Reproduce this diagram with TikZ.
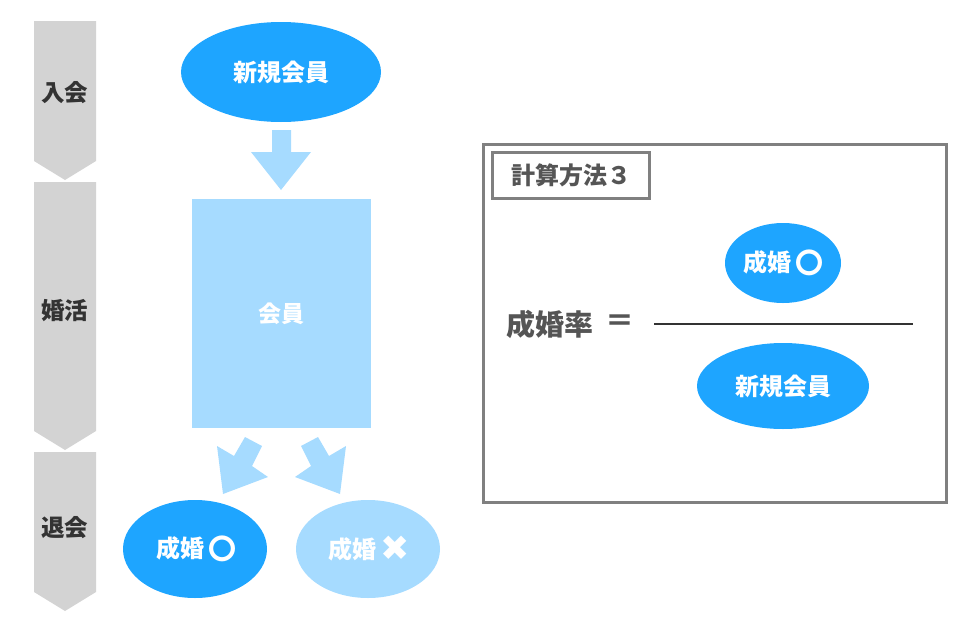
\documentclass[tikz,border=0pt]{standalone}
\usepackage{fontspec}
\setmainfont{Noto Sans CJK JP}
\newfontfamily\symfont{DejaVu Sans}
\usetikzlibrary{shapes.geometric}
\definecolor{barg}{HTML}{D3D3D3}
\definecolor{dblue}{HTML}{1EA5FF}
\definecolor{lblue}{HTML}{A6DBFF}
\definecolor{txtd}{HTML}{333333}
\definecolor{boxg}{HTML}{808080}
\definecolor{txtg}{HTML}{555555}
\newcommand{\ringmark}{\raisebox{-0.08em}{\fontsize{28}{28}\selectfont 〇}}
\newcommand{\crossmark}{\raisebox{-0.08em}{\symfont\fontsize{35}{35}\selectfont ✖}}
\begin{document}
\begin{tikzpicture}[x=1pt,y=-1pt,
  phase/.style={font=\fontsize{23.5}{26}\selectfont\bfseries, text=txtd},
  oval/.style={ellipse, inner sep=0pt, font=\fontsize{24}{26}\selectfont\bfseries, text=white},
  darkoval/.style={oval, fill=dblue},
  lightoval/.style={oval, fill=lblue},
  blockarrow/.style={fill=lblue},
  frame/.style={draw=boxg, line width=3pt},
  boxtext/.style={text=txtg, font=\fontsize{24}{26}\selectfont\bfseries}]
\useasboundingbox (0,0) rectangle (980,624);
% phase bars
\fill[barg] (34,21) -- (96,21) -- (96,161) -- (65,180) -- (34,161) -- cycle;
\fill[barg] (34,182) -- (96,182) -- (96,431) -- (65,450) -- (34,431) -- cycle;
\fill[barg] (34,452) -- (96,452) -- (96,592) -- (65,611) -- (34,592) -- cycle;
\node[phase] (p1) at (65,93) {入会};
\node[phase] (p2) at (65,311) {婚活};
\node[phase] (p3) at (65,528) {退会};
% flow
\node[darkoval, minimum width=200pt, minimum height=100pt] (new) at (281,72) {新規会員};
\fill[blockarrow] (272,130) -- (291,130) -- (291,152) -- (311,152) -- (281,190) -- (251,152) -- (272,152) -- cycle;
\node[fill=lblue, minimum width=179pt, minimum height=229pt, inner sep=0pt, text=white, font=\fontsize{23}{26}\selectfont\bfseries] (mem) at (281.5,313.5) {会員};
\fill[blockarrow] (245,437) -- (262,446) -- (252,466) -- (268,477) -- (223,494) -- (217,446) -- (234,456) -- cycle;
\fill[blockarrow] (318,437) -- (301,446) -- (311,466) -- (295,477) -- (340,494) -- (346,446) -- (329,456) -- cycle;
\node[darkoval, minimum width=144pt, minimum height=98pt] (yes) at (195,549) {\hspace{3pt}成婚\,\ringmark};
\node[lightoval, minimum width=144pt, minimum height=98pt] (no) at (368,549) {\hspace{3pt}成婚\,\crossmark};
% formula box
\draw[frame] (483.5,144.5) rectangle (946.5,502.5);
\node[frame, minimum width=157pt, minimum height=46pt, inner sep=0pt, boxtext] (title) at (571,175.5) {計算方法３};
\node[text=txtg, font=\fontsize{29}{32}\selectfont\bfseries, anchor=west, inner sep=0pt] (rate) at (506,324) {成婚率};
\node[text=txtg, font=\fontsize{29}{32}\selectfont\bfseries, inner sep=0pt] (eq) at (620,323) {＝};
\coordinate (fl) at (654,324);
\coordinate (fr) at (913,324);
\draw[txtd, line width=1.5pt] (fl) -- (fr);
\node[darkoval, minimum width=116pt, minimum height=80pt] (num) at (783,263) {成婚\,\ringmark};
\node[darkoval, minimum width=172pt, minimum height=86pt] (den) at (783,386) {新規会員};
\end{tikzpicture}
\end{document}
